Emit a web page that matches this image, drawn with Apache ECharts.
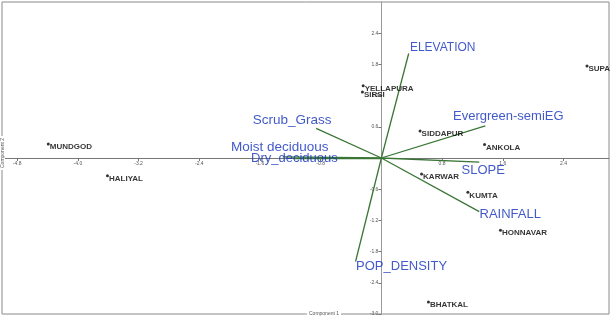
<!DOCTYPE html>
<html>
<head>
<meta charset="utf-8">
<script src="https://cdn.jsdelivr.net/npm/echarts@6/dist/echarts.min.js"></script>
<style>html,body{margin:0;padding:0;background:#fff}#c{width:611px;height:317px}</style>
</head>
<body>
<div id="c"></div>
<script>
// Sites (PCA scores)
var siteNames = ['MUNDGOD','HALIYAL','YELLAPURA','SIRSI','SIDDAPUR','ANKOLA','SUPA','KARWAR','KUMTA','HONNAVAR','BHATKAL'];
var siteX = [-4.39, -3.61, -0.24, -0.25, 0.51, 1.36, 2.71, 0.53, 1.14, 1.57, 0.62];
var siteY = [0.27, -0.34, 1.39, 1.27, 0.52, 0.26, 1.77, -0.31, -0.66, -1.39, -2.77];
// Variables (loading vectors)
var varNames = ['ELEVATION','Evergreen-semiEG','Scrub_Grass','Moist deciduous','Dry_deciduous','SLOPE','RAINFALL','POP_DENSITY'];
var varX = [0.36, 1.37, -0.86, -1.30, -1.16, 1.29, 1.29, -0.34];
var varY = [2.01, 0.62, 0.57, 0.02, 0.00, -0.08, -1.03, -1.99];
// Tick labels
var xTicks = [-4.8, -4.0, -3.2, -2.4, -1.6, -0.8, 0.8, 1.6, 2.4];
var yTicks = [-3.0, -2.4, -1.8, -1.2, -0.6, 0.6, 1.2, 1.8, 2.4];
var xMin = -5, xMax = 3, yMin = -3, yMax = 3;
// label offsets / sizes (style only)
var varLabelOffsets = [[34,-6],[23,-9],[-24,-8],[-3,-10],[1,0],[4,8],[31,3],[46,5]];
var varLabelSizes = [12,13,13.5,13.5,13,13,13,13];

var font = '"Liberation Sans", Arial, Helvetica, sans-serif';
var W = 611, H = 317, gl = 2, gr = 2, gt = 2, gb = 3;
var gw = W - gl - gr, gh = H - gt - gb;
// place axes through the origin
var yAxisOffset = -gw * (0 - xMin) / (xMax - xMin);
var xAxisOffset = -gh * (0 - yMin) / (yMax - yMin);

var chart = echarts.init(document.getElementById('c'));

var siteData = siteNames.map(function(n,i){ return {name:n, value:[siteX[i], siteY[i]]}; });
var vecData = varNames.map(function(n,i){ return {coords:[[0,0],[varX[i],varY[i]]]}; });
var vecLabelData = varNames.map(function(n,i){
  return {name:n, value:[varX[i],varY[i]], label:{offset:varLabelOffsets[i], fontSize:varLabelSizes[i]}};
});

chart.setOption({
  animation:false,
  grid:{left:gl, right:gr, top:gt, bottom:gb, show:true, borderColor:'#8a8a8a', borderWidth:1, containLabel:false, outerBoundsMode:'none'},
  xAxis:{
    type:'value', min:xMin, max:xMax, position:'bottom', offset:xAxisOffset,
    splitLine:{show:false},
    axisLine:{onZero:false, lineStyle:{color:'#777', width:1}},
    axisTick:{show:true, length:3, customValues:xTicks, lineStyle:{color:'#777'}},
    axisLabel:{customValues:xTicks, fontSize:5, color:'#555', margin:3, fontFamily:font,
      formatter:function(v){return v.toFixed(1);}}
  },
  yAxis:{
    type:'value', min:yMin, max:yMax, position:'left', offset:yAxisOffset,
    splitLine:{show:false},
    axisLine:{onZero:false, lineStyle:{color:'#999', width:1}},
    axisTick:{show:true, length:3, customValues:yTicks, lineStyle:{color:'#777'}},
    axisLabel:{customValues:yTicks, fontSize:5, color:'#555', margin:3, fontFamily:font,
      formatter:function(v){return v.toFixed(1);}}
  },
  graphic:[
    {type:'text', left:307, top:311, z:100, style:{text:'Component 1', fontSize:5, fill:'#555', fontFamily:font, backgroundColor:'#fff', padding:[0,2]}},
    {type:'text', x:0, y:170, rotation:Math.PI/2, z:100, style:{text:'Component 2', fontSize:5, fill:'#555', fontFamily:font, backgroundColor:'#fff', padding:[0,2]}}
  ],
  series:[
    {type:'lines', coordinateSystem:'cartesian2d', data:vecData, z:3,
      lineStyle:{color:'#3a7536', width:1.3, opacity:1}, symbol:'none'},
    {type:'scatter', data:vecLabelData, symbolSize:0, z:5,
      label:{show:true, position:'inside', formatter:'{b}', color:'#1230bd', fontSize:13, fontFamily:font}},
    {type:'scatter', data:siteData, symbolSize:3, z:6, itemStyle:{color:'#000'},
      label:{show:true, position:'right', distance:0, offset:[0,3], formatter:'{b}', color:'#000', fontSize:8, fontWeight:'bold', fontFamily:font}}
  ]
});
</script>
</body>
</html>
